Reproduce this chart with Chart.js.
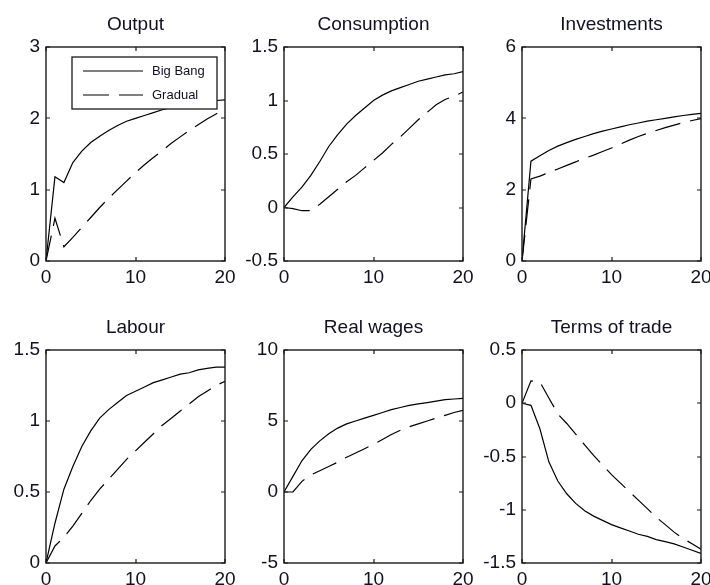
<!DOCTYPE html>
<html>
<head>
<meta charset="utf-8">
<script src="https://cdn.jsdelivr.net/npm/chart.js@4.4.1/dist/chart.umd.min.js"></script>
<style>
  html, body { margin: 0; padding: 0; background: #ffffff; width: 710px; height: 585px; overflow: hidden; }
  canvas { position: absolute; }
</style>
</head>
<body>
<script>
// ---------------- DATA ----------------
const periods = [0, 1, 2, 3, 4, 5, 6, 7, 8, 9, 10, 11, 12, 13, 14, 15, 16, 17, 18, 19, 20];
const seriesNames = ['Big Bang', 'Gradual'];
const xTicks = [0, 10, 20];

const panelTitles = ['Output', 'Consumption', 'Investments', 'Labour', 'Real wages', 'Terms of trade'];

const outputBigBang = [0, 1.18, 1.10, 1.38, 1.54, 1.66, 1.75, 1.83, 1.90, 1.96, 2.00, 2.04, 2.08, 2.12, 2.15, 2.18, 2.20, 2.22, 2.24, 2.25, 2.26];
const outputGradual = [0, 0.60, 0.20, 0.33, 0.47, 0.61, 0.75, 0.88, 1.00, 1.12, 1.24, 1.35, 1.45, 1.55, 1.65, 1.74, 1.83, 1.91, 1.99, 2.06, 2.13];
const outputTicks = [0, 1, 2, 3];

const consumptionBigBang = [0, 0.10, 0.19, 0.30, 0.43, 0.57, 0.68, 0.78, 0.86, 0.93, 1.00, 1.05, 1.09, 1.12, 1.15, 1.18, 1.20, 1.22, 1.24, 1.25, 1.27];
const consumptionGradual = [0, -0.01, -0.03, -0.03, 0.03, 0.10, 0.17, 0.24, 0.30, 0.37, 0.44, 0.51, 0.59, 0.66, 0.74, 0.82, 0.89, 0.96, 1.01, 1.04, 1.08];
const consumptionTicks = [-0.5, 0, 0.5, 1, 1.5];

const investmentsBigBang = [0, 2.80, 2.95, 3.10, 3.22, 3.32, 3.41, 3.49, 3.57, 3.64, 3.70, 3.76, 3.82, 3.87, 3.92, 3.96, 4.00, 4.04, 4.08, 4.11, 4.14];
const investmentsGradual = [0, 2.30, 2.38, 2.48, 2.58, 2.68, 2.78, 2.88, 2.97, 3.07, 3.17, 3.28, 3.39, 3.49, 3.58, 3.66, 3.74, 3.81, 3.88, 3.94, 3.99];
const investmentsTicks = [0, 2, 4, 6];

const labourBigBang = [0, 0.28, 0.52, 0.68, 0.82, 0.93, 1.02, 1.08, 1.13, 1.18, 1.21, 1.24, 1.27, 1.29, 1.31, 1.33, 1.34, 1.36, 1.37, 1.38, 1.38];
const labourGradual = [0, 0.12, 0.18, 0.26, 0.35, 0.44, 0.52, 0.59, 0.66, 0.73, 0.79, 0.85, 0.91, 0.97, 1.02, 1.07, 1.12, 1.17, 1.21, 1.25, 1.28];
const labourTicks = [0, 0.5, 1, 1.5];

const wagesBigBang = [0, 1.1, 2.2, 3.0, 3.6, 4.1, 4.5, 4.8, 5.0, 5.2, 5.4, 5.6, 5.8, 5.95, 6.1, 6.2, 6.3, 6.4, 6.5, 6.55, 6.6];
const wagesGradual = [0, 0, 0.75, 1.2, 1.5, 1.8, 2.1, 2.45, 2.75, 3.05, 3.35, 3.7, 4.05, 4.35, 4.6, 4.8, 5.0, 5.2, 5.4, 5.6, 5.75];
const wagesTicks = [-5, 0, 5, 10];

const totBigBang = [0, -0.02, -0.24, -0.55, -0.73, -0.85, -0.94, -1.01, -1.06, -1.10, -1.14, -1.17, -1.20, -1.23, -1.25, -1.28, -1.30, -1.32, -1.35, -1.38, -1.41];
const totGradual = [0, 0.21, 0.20, 0.05, -0.10, -0.19, -0.29, -0.39, -0.49, -0.58, -0.67, -0.75, -0.83, -0.91, -0.99, -1.07, -1.14, -1.21, -1.27, -1.32, -1.37];
const totTicks = [-1.5, -1, -0.5, 0, 0.5];

// ---------------- LAYOUT ----------------
const FONT = "'Liberation Sans', Arial, Helvetica, sans-serif";
const TEXT_COLOR = '#111122';
const FONT_SIZE = 19;
const boxW = 179;
const colLeft = [46, 284, 522];
const rowTop = [47, 350];
const rowH = [214, 213];
const AX_W = 44, AX_H = 30, TITLE_H = 40, RIGHT_PAD = 16;

const panels = [
  { title: panelTitles[0], a: outputBigBang, b: outputGradual, ticks: outputTicks, legend: true },
  { title: panelTitles[1], a: consumptionBigBang, b: consumptionGradual, ticks: consumptionTicks },
  { title: panelTitles[2], a: investmentsBigBang, b: investmentsGradual, ticks: investmentsTicks },
  { title: panelTitles[3], a: labourBigBang, b: labourGradual, ticks: labourTicks },
  { title: panelTitles[4], a: wagesBigBang, b: wagesGradual, ticks: wagesTicks },
  { title: panelTitles[5], a: totBigBang, b: totGradual, ticks: totTicks }
];

const DASH = [26, 10];

// frame + inward ticks on all four sides (MATLAB style)
const framePlugin = {
  id: 'frame',
  afterDraw(chart) {
    const { ctx, chartArea: a, scales } = chart;
    const xs = scales.x, ys = scales.y;
    ctx.save();
    ctx.strokeStyle = '#1a1a1a';
    ctx.lineWidth = 1.4;
    ctx.strokeRect(Math.round(a.left), Math.round(a.top), Math.round(a.right) - Math.round(a.left), Math.round(a.bottom) - Math.round(a.top));
    ctx.lineWidth = 1.2;
    const TL = 4;
    ctx.beginPath();
    xs.ticks.forEach(t => {
      const px = Math.round(xs.getPixelForValue(t.value));
      ctx.moveTo(px, a.bottom); ctx.lineTo(px, a.bottom - TL);
      ctx.moveTo(px, a.top); ctx.lineTo(px, a.top + TL);
    });
    ys.ticks.forEach(t => {
      const py = Math.round(ys.getPixelForValue(t.value));
      ctx.moveTo(a.left, py); ctx.lineTo(a.left + TL, py);
      ctx.moveTo(a.right, py); ctx.lineTo(a.right - TL, py);
    });
    ctx.stroke();
    ctx.restore();
  }
};

// boxed legend inside the first panel
const boxLegendPlugin = {
  id: 'boxLegend',
  afterDatasetsDraw(chart) {
    const { ctx, chartArea: a } = chart;
    const bx = Math.round(a.left) + 26, by = Math.round(a.top) + 10, bw = 145, bh = 52;
    ctx.save();
    ctx.fillStyle = '#ffffff';
    ctx.fillRect(bx, by, bw, bh);
    ctx.strokeStyle = '#1a1a1a';
    ctx.lineWidth = 1.3;
    ctx.strokeRect(bx, by, bw, bh);
    chart.data.datasets.forEach((ds, i) => {
      const yy = by + 14 + i * 24;
      ctx.beginPath();
      ctx.setLineDash(ds.borderDash || []);
      ctx.strokeStyle = ds.borderColor;
      ctx.lineWidth = ds.borderWidth;
      ctx.moveTo(bx + 11, yy);
      ctx.lineTo(bx + 71, yy);
      ctx.stroke();
      ctx.setLineDash([]);
      ctx.fillStyle = TEXT_COLOR;
      ctx.font = '13px ' + FONT;
      ctx.textBaseline = 'middle';
      ctx.textAlign = 'left';
      ctx.fillText(ds.label, bx + 80, yy);
    });
    ctx.restore();
  }
};

panels.forEach((p, i) => {
  const col = i % 3, row = Math.floor(i / 3);
  const L = colLeft[col], T = rowTop[row], H = rowH[row];
  const cv = document.createElement('canvas');
  const cw = boxW + AX_W + RIGHT_PAD, ch = H + TITLE_H + AX_H;
  cv.width = cw; cv.height = ch;
  cv.style.width = cw + 'px'; cv.style.height = ch + 'px';
  cv.style.left = (L - AX_W) + 'px';
  cv.style.top = (T - TITLE_H) + 'px';
  document.body.appendChild(cv);

  const yMin = p.ticks[0], yMax = p.ticks[p.ticks.length - 1];
  new Chart(cv.getContext('2d'), {
    type: 'line',
    data: {
      datasets: [
        { label: seriesNames[0], data: periods.map((t, k) => ({ x: t, y: p.a[k] })),
          borderColor: '#000000', borderWidth: 1.2, pointRadius: 0, tension: 0, fill: false },
        { label: seriesNames[1], data: periods.map((t, k) => ({ x: t, y: p.b[k] })),
          borderColor: '#000000', borderWidth: 1.2, borderDash: DASH, pointRadius: 0, tension: 0, fill: false }
      ]
    },
    options: {
      responsive: false,
      animation: false,
      devicePixelRatio: 1,
      layout: { padding: { left: 0, right: RIGHT_PAD, top: 0, bottom: 0 } },
      plugins: {
        legend: { display: false },
        tooltip: { enabled: false },
        title: {
          display: true, text: p.title, fullSize: false,
          color: TEXT_COLOR,
          font: { family: FONT, size: FONT_SIZE, weight: 'normal', lineHeight: 1.2 },
          padding: { top: 6, bottom: 11.2 }
        }
      },
      scales: {
        x: {
          type: 'linear', min: periods[0], max: periods[periods.length - 1],
          grid: { display: false, drawTicks: false }, border: { display: false },
          afterBuildTicks: s => { s.ticks = xTicks.map(v => ({ value: v })); },
          afterFit: s => { s.height = AX_H; },
          ticks: { color: TEXT_COLOR, padding: 5, maxRotation: 0, autoSkip: false,
                   font: { family: FONT, size: FONT_SIZE }, callback: v => String(v) }
        },
        y: {
          type: 'linear', min: yMin, max: yMax,
          grid: { display: false, drawTicks: false }, border: { display: false },
          afterBuildTicks: s => { s.ticks = p.ticks.map(v => ({ value: v })); },
          afterFit: s => { s.width = AX_W; },
          ticks: { color: TEXT_COLOR, padding: 6, autoSkip: false,
                   font: { family: FONT, size: FONT_SIZE }, callback: v => String(+Number(v).toFixed(2)) }
        }
      }
    },
    plugins: p.legend ? [boxLegendPlugin, framePlugin] : [framePlugin]
  });
});
</script>
</body>
</html>
